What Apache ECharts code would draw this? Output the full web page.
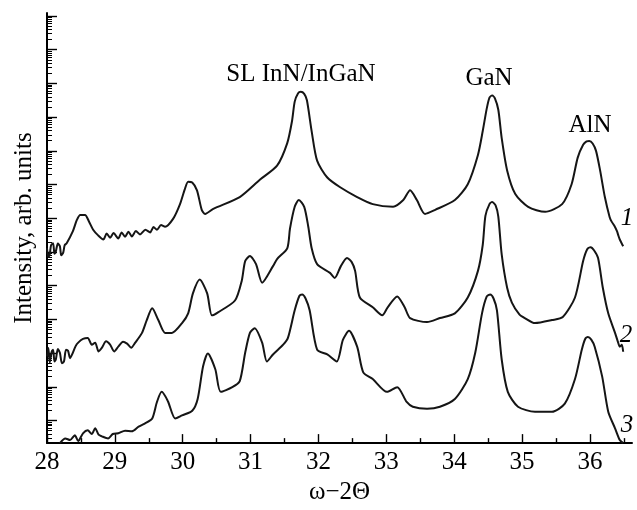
<!DOCTYPE html>
<html>
<head>
<meta charset="utf-8">
<script src="https://cdn.jsdelivr.net/npm/echarts@6/dist/echarts.min.js"></script>
<style>html,body{margin:0;padding:0;background:#fff}#c{width:637px;height:510px}</style>
</head>
<body>
<div id="c"></div>
<script>
// x: ω−2Θ (deg), y: log10 intensity (decades, arb. units)
const xMajor = [28, 29, 30, 31, 32, 33, 34, 35, 36];
const xMinor = [28.5, 29.5, 30.5, 31.5, 32.5, 33.5, 34.5, 35.5, 36.5];
const yDecades = [0, 1, 2, 3, 4, 5, 6, 7, 8, 9, 10, 11, 12];
const yMinorFactors = [2, 3, 4, 5, 6, 7, 8, 9];

const curve1 = [
 [28.00,5.11],[28.02,4.85],[28.04,4.93],[28.06,5.20],[28.09,5.26],[28.11,4.95],[28.13,5.02],[28.16,5.25],
 [28.19,5.17],[28.21,4.90],[28.24,4.99],[28.26,5.20],[28.29,5.26],
 [28.38,5.61],[28.44,5.95],[28.49,6.10],[28.56,6.10],[28.62,5.90],[28.68,5.66],[28.75,5.50],[28.83,5.37],[28.88,5.55],[28.93,5.42],[28.98,5.56],[29.05,5.40],
 [29.10,5.58],[29.15,5.45],[29.20,5.60],[29.25,5.46],[29.31,5.62],[29.37,5.52],[29.45,5.66],[29.52,5.58],[29.57,5.74],[29.62,5.66],[29.68,5.80],[29.74,5.75],[29.86,5.99],
 [29.96,6.42],[30.03,6.86],[30.08,7.08],[30.14,7.06],[30.21,6.83],[30.28,6.25],[30.33,6.13],[30.45,6.28],
 [30.84,6.63],[31.14,7.15],[31.39,7.56],[31.54,8.23],[31.61,8.88],[31.65,9.46],[31.70,9.71],[31.74,9.75],[31.79,9.69],
 [31.83,9.50],[31.90,8.58],[31.98,7.71],[32.13,7.21],[32.32,6.92],[32.57,6.63],[32.80,6.42],
 [33.10,6.34],[33.25,6.54],[33.35,6.83],[33.45,6.54],[33.57,6.13],[33.72,6.25],[34.01,6.54],
 [34.20,7.01],[34.35,7.88],[34.42,8.58],[34.48,9.26],[34.52,9.58],[34.56,9.64],[34.60,9.56],[34.65,9.22],[34.70,8.38],
 [34.78,7.42],[34.90,6.72],[35.09,6.34],[35.34,6.19],[35.59,6.42],[35.73,7.01],[35.82,7.80],
 [35.90,8.18],[35.95,8.28],[35.99,8.29],[36.04,8.22],[36.09,8.00],[36.15,7.42],[36.22,6.63],[36.29,6.04],[36.32,5.90],
 [36.36,5.78],[36.40,5.61],[36.42,5.48],[36.44,5.37],[36.49,5.17]
];
const curve2 = [
 [28.00,1.90],[28.02,2.15],[28.04,1.72],[28.07,2.05],[28.09,2.10],[28.11,1.75],[28.13,1.81],[28.16,2.12],[28.19,2.01],[28.22,1.70],[28.25,1.75],[28.28,2.10],[28.31,2.07],
 [28.34,1.85],[28.37,1.96],[28.42,2.20],[28.46,2.31],[28.53,2.42],[28.60,2.45],[28.66,2.25],[28.71,2.31],[28.76,2.05],[28.81,2.16],[28.87,2.35],[28.93,2.25],[28.99,2.05],[29.05,2.19],
 [29.12,2.34],[29.18,2.28],[29.24,2.16],[29.30,2.31],[29.40,2.60],[29.47,2.98],[29.55,3.33],[29.64,2.98],[29.74,2.60],
 [29.84,2.60],[29.99,2.89],[30.08,3.18],[30.15,3.77],[30.25,4.18],[30.36,3.77],[30.43,3.12],
 [30.52,3.21],[30.77,3.56],[30.87,4.15],[30.92,4.73],[30.99,4.88],[31.08,4.64],[31.17,4.09],
 [31.33,4.58],[31.39,4.79],[31.54,5.11],[31.58,5.69],[31.65,6.34],[31.71,6.54],[31.79,6.34],
 [31.85,5.75],[31.90,5.11],[31.98,4.64],[32.17,4.38],[32.24,4.23],[32.33,4.58],[32.42,4.82],
 [32.49,4.70],[32.54,4.44],[32.61,3.65],[32.80,3.36],[32.94,3.12],[33.02,3.36],[33.16,3.68],
 [33.27,3.36],[33.35,3.04],[33.60,2.92],[33.79,3.04],[34.01,3.18],[34.20,3.65],[34.35,4.44],
 [34.42,5.20],[34.46,6.07],[34.52,6.42],[34.56,6.48],[34.61,6.38],[34.65,6.05],[34.70,4.93],[34.78,3.94],[34.85,3.50],
 [34.96,3.15],[35.04,3.04],[35.19,2.89],[35.44,2.98],[35.60,3.07],[35.78,3.65],[35.90,4.73],
 [35.96,5.08],[36.01,5.14],[36.06,5.05],[36.12,4.82],[36.19,3.94],[36.27,3.18],[36.37,2.60],[36.41,2.35],[36.44,2.19],[36.47,2.25],[36.49,2.04]
];
const curve3 = [
 [28.19,-0.67],[28.27,-0.53],[28.34,-0.58],[28.41,-0.44],[28.46,-0.61],[28.53,-0.38],[28.60,-0.29],
 [28.66,-0.40],[28.71,-0.23],[28.76,-0.42],[28.81,-0.47],[28.90,-0.53],[28.97,-0.40],[29.05,-0.38],[29.15,-0.30],[29.25,-0.32],[29.35,-0.18],[29.44,-0.09],[29.55,0.06],
 [29.62,0.55],[29.69,0.85],[29.78,0.58],[29.89,0.06],[29.99,0.15],[30.14,0.29],[30.22,0.64],
 [30.30,1.61],[30.37,1.99],[30.48,1.52],[30.56,0.85],[30.73,0.99],[30.84,1.17],[30.92,2.01],
 [30.99,2.60],[31.06,2.74],[31.17,2.31],[31.24,1.75],[31.33,1.96],[31.48,2.25],[31.55,2.45],
 [31.65,3.27],[31.72,3.70],[31.76,3.74],[31.81,3.62],[31.87,3.27],[31.98,2.10],[32.13,1.96],[32.27,1.75],[32.36,2.39],
 [32.45,2.66],[32.57,2.19],[32.66,1.43],[32.80,1.23],[33.01,0.85],[33.16,0.99],[33.30,0.55],
 [33.39,0.41],[33.60,0.35],[33.79,0.41],[34.01,0.64],[34.20,1.23],[34.31,2.01],[34.41,3.18],
 [34.48,3.68],[34.53,3.74],[34.58,3.62],[34.63,3.27],[34.70,1.81],[34.79,0.85],[34.94,0.41],[35.19,0.26],[35.44,0.26],
 [35.63,0.50],[35.78,1.23],[35.88,2.10],[35.93,2.42],[35.97,2.48],[36.02,2.40],[36.07,2.19],[36.18,1.31],[36.27,0.26],
 [36.37,-0.23],[36.44,-0.58],[36.49,-0.67]
];

const X_MIN = 28, X_MAX = 36.62, Y_MIN = -0.67, Y_MAX = 12.09;
const FONT = '"Liberation Serif", "Times New Roman", serif';

const yMinor = [];
for (let d = -1; d < 12; d++) {
  yMinorFactors.forEach(k => {
    const v = d + Math.log10(k);
    if (v > Y_MIN && v < Y_MAX) yMinor.push(v);
  });
}

const chart = echarts.init(document.getElementById('c'), null, {renderer: 'canvas'});
const lineStyleAxis = {color: '#000', width: 2};
const tickStyle = {color: '#000', width: 1.4};

const mkSeries = (d) => ({
  type: 'line', data: d, xAxisIndex: 0, yAxisIndex: 0,
  showSymbol: false, symbol: 'none', smooth: 0.25,
  lineStyle: {color: '#151515', width: 2}, silent: true, animation: false
});

chart.setOption({
  animation: false,
  backgroundColor: '#fff',
  grid: {left: 47, right: 5, top: 13, bottom: 60, containLabel: false},
  xAxis: [
    {type: 'value', min: X_MIN, max: X_MAX, position: 'bottom',
     axisLine: {onZero: false, lineStyle: lineStyleAxis},
     axisTick: {inside: true, length: 9, customValues: xMajor, lineStyle: tickStyle},
     axisLabel: {customValues: xMajor, fontSize: 25, fontFamily: FONT, color: '#000', margin: 7},
     splitLine: {show: false},
     name: 'ω−2Θ', nameLocation: 'middle', nameGap: 34,
     nameTextStyle: {fontSize: 25, fontFamily: FONT, color: '#000'}},
    {type: 'value', min: X_MIN, max: X_MAX, position: 'bottom',
     axisLine: {show: false, onZero: false},
     axisTick: {inside: true, length: 5, customValues: xMinor, lineStyle: tickStyle},
     axisLabel: {show: false}, splitLine: {show: false}}
  ],
  yAxis: [
    {type: 'value', min: Y_MIN, max: Y_MAX, position: 'left',
     axisLine: {show: true, onZero: false, lineStyle: lineStyleAxis},
     axisTick: {show: true, inside: true, length: 10, customValues: yDecades, lineStyle: tickStyle},
     axisLabel: {show: false}, splitLine: {show: false},
     name: 'Intensity, arb. units', nameLocation: 'middle', nameGap: 10,
     nameTextStyle: {fontSize: 25, fontFamily: FONT, color: '#000'}},
    {type: 'value', min: Y_MIN, max: Y_MAX, position: 'left',
     axisLine: {show: false, onZero: false},
     axisTick: {show: true, inside: true, length: 5, customValues: yMinor, lineStyle: {color: '#000', width: 1}},
     axisLabel: {show: false}, splitLine: {show: false}}
  ],
  series: [mkSeries(curve1), mkSeries(curve2), mkSeries(curve3)],
  graphic: [
    {type: 'text', style: {text: 'SL InN/InGaN', x: 301, y: 74, font: '25px ' + FONT, fill: '#000', align: 'center', verticalAlign: 'middle'}},
    {type: 'text', style: {text: 'GaN', x: 489, y: 78, font: '25px ' + FONT, fill: '#000', align: 'center', verticalAlign: 'middle'}},
    {type: 'text', style: {text: 'AlN', x: 590, y: 125, font: '25px ' + FONT, fill: '#000', align: 'center', verticalAlign: 'middle'}},
    {type: 'text', style: {text: '1', x: 627, y: 218, font: 'italic 25px ' + FONT, fill: '#000', align: 'center', verticalAlign: 'middle'}},
    {type: 'text', style: {text: '2', x: 626, y: 335, font: 'italic 25px ' + FONT, fill: '#000', align: 'center', verticalAlign: 'middle'}},
    {type: 'text', style: {text: '3', x: 627, y: 425, font: 'italic 25px ' + FONT, fill: '#000', align: 'center', verticalAlign: 'middle'}}
  ]
});
</script>
</body>
</html>
